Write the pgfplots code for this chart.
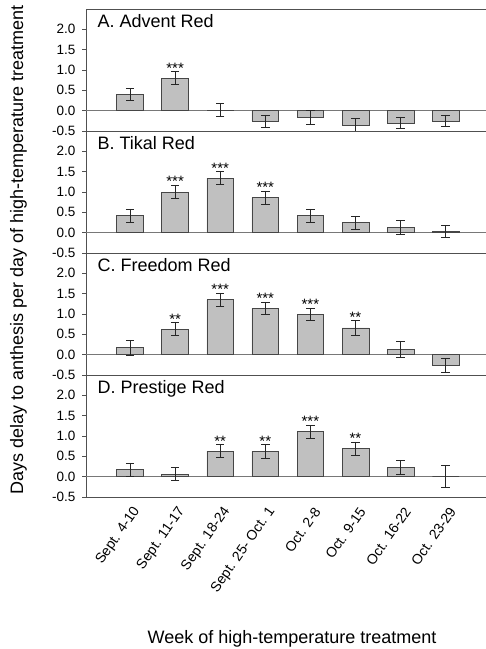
\documentclass[border=0pt]{standalone}
\usepackage{pgfplots}
\pgfplotsset{compat=1.18}
\usepackage{pgfplotstable}
\usepackage{fontspec}
\setmainfont{Liberation Sans}
\definecolor{barfill}{RGB}{192,192,192}
\definecolor{bardraw}{RGB}{70,70,70}
\definecolor{axisgray}{RGB}{80,80,80}
\definecolor{zerogray}{RGB}{120,120,120}

\pgfplotstableread{
x y e
0 0.40 0.15
1 0.80 0.16
2 0.01 0.16
3 -0.26 0.155
4 -0.17 0.17
5 -0.35 0.165
6 -0.30 0.145
7 -0.25 0.145
}\dataA
\pgfplotstableread{
x y e
0 0.42 0.165
1 1.00 0.165
2 1.34 0.16
3 0.86 0.165
4 0.42 0.165
5 0.25 0.155
6 0.13 0.165
7 0.03 0.155
}\dataB
\pgfplotstableread{
x y e
0 0.17 0.19
1 0.63 0.16
2 1.35 0.17
3 1.14 0.155
4 0.99 0.155
5 0.66 0.18
6 0.13 0.19
7 -0.26 0.17
}\dataC
\pgfplotstableread{
x y e
0 0.18 0.16
1 0.06 0.16
2 0.63 0.16
3 0.62 0.165
4 1.11 0.16
5 0.69 0.165
6 0.23 0.175
7 0.00 0.27
}\dataD

\pgfplotsset{
  panel/.style={
    scale only axis, width=400bp, height=122bp, anchor=south west,
    xmin=-0.976, xmax=7.894, ymin=-0.5, ymax=2.5,
    axis x line*=box, axis y line*=left,
    axis line style={axisgray, line width=0.6bp},
    ytick={-0.5,0,0.5,1,1.5,2},
    xtick={0,...,7}, xticklabels={}, xtick pos=bottom,
    major x tick style={draw=none},
    ytick pos=left, tick align=outside, major tick length=4bp,
    tick style={axisgray, line width=0.6bp},
    yticklabel style={font=\fontsize{13.5bp}{15bp}\selectfont, xshift=-3bp},
    /pgf/number format/fixed, /pgf/number format/fixed zerofill,
    /pgf/number format/precision=1, /pgf/number format/assume math mode=true,
    clip=false,
  },
  bars/.style={
    ybar, bar width=26.7bp, fill=barfill, draw=bardraw, line width=0.6bp,
    error bars/.cd, y dir=both, y explicit,
    error mark=-,
    error bar style={black!85, line width=0.6bp},
    error mark options={rotate=90, black!85, line width=0.6bp, mark size=4.2bp},
  },
  stars/.style={
    draw=none, mark=none, nodes near coords, point meta=explicit symbolic,
    every node near coord/.append style={anchor=base, yshift=-1.5bp, inner sep=0pt,
      font=\fontsize{15bp}{16bp}\selectfont},
  },
}

\newcommand{\titlefont}{\fontsize{18bp}{21bp}\selectfont}

\begin{document}
\begin{tikzpicture}
\useasboundingbox (0,0) rectangle (486bp,-649bp);

\begin{axis}[panel, at={(86bp,-131bp)}]
\addplot[zerogray, line width=0.6bp, forget plot] coordinates {(-0.976,0) (7.894,0)};
\addplot[bars] table[x=x, y=y, y error=e] {\dataA};
\addplot[stars] coordinates {(1,0.96) [***]};
\node[anchor=base west, font=\titlefont] at (rel axis cs:0.02,0.85) {A. Advent Red};
\end{axis}

\begin{axis}[panel, at={(86bp,-253bp)}]
\addplot[zerogray, line width=0.6bp, forget plot] coordinates {(-0.976,0) (7.894,0)};
\addplot[bars] table[x=x, y=y, y error=e] {\dataB};
\addplot[stars] coordinates {(1,1.165) [***] (2,1.50) [***] (3,1.025) [***]};
\node[anchor=base west, font=\titlefont] at (rel axis cs:0.02,0.85) {B. Tikal Red};
\end{axis}

\begin{axis}[panel, at={(86bp,-375bp)}]
\addplot[zerogray, line width=0.6bp, forget plot] coordinates {(-0.976,0) (7.894,0)};
\addplot[bars] table[x=x, y=y, y error=e] {\dataC};
\addplot[stars] coordinates {(1,0.79) [**] (2,1.52) [***] (3,1.295) [***] (4,1.145) [***] (5,0.84) [**]};
\node[anchor=base west, font=\titlefont] at (rel axis cs:0.02,0.85) {C. Freedom Red};
\end{axis}

\begin{axis}[panel, at={(86bp,-497bp)},
  xticklabels={Sept. 4-10, Sept. 11-17, Sept. 18-24, Sept. 25- Oct. 1, Oct. 2-8, Oct. 9-15, Oct. 16-22, Oct. 23-29},
  xticklabel style={xshift=9bp, yshift=-5bp, rotate=55, anchor=east, font=\fontsize{14bp}{16bp}\selectfont}]
\addplot[zerogray, line width=0.6bp, forget plot] coordinates {(-0.976,0) (7.894,0)};
\addplot[bars] table[x=x, y=y, y error=e] {\dataD};
\addplot[stars] coordinates {(2,0.79) [**] (3,0.785) [**] (4,1.27) [***] (5,0.855) [**]};
\node[anchor=base west, font=\titlefont] at (rel axis cs:0.02,0.85) {D. Prestige Red};
\end{axis}

\node[rotate=90, anchor=base, font=\fontsize{18bp}{21bp}\selectfont] at (23bp,-250bp)
  {Days delay to anthesis per day of high-temperature treatment};
\node[anchor=base, font=\fontsize{18bp}{21bp}\selectfont] at (292bp,-643bp)
  {Week of high-temperature treatment};
\end{tikzpicture}
\end{document}
